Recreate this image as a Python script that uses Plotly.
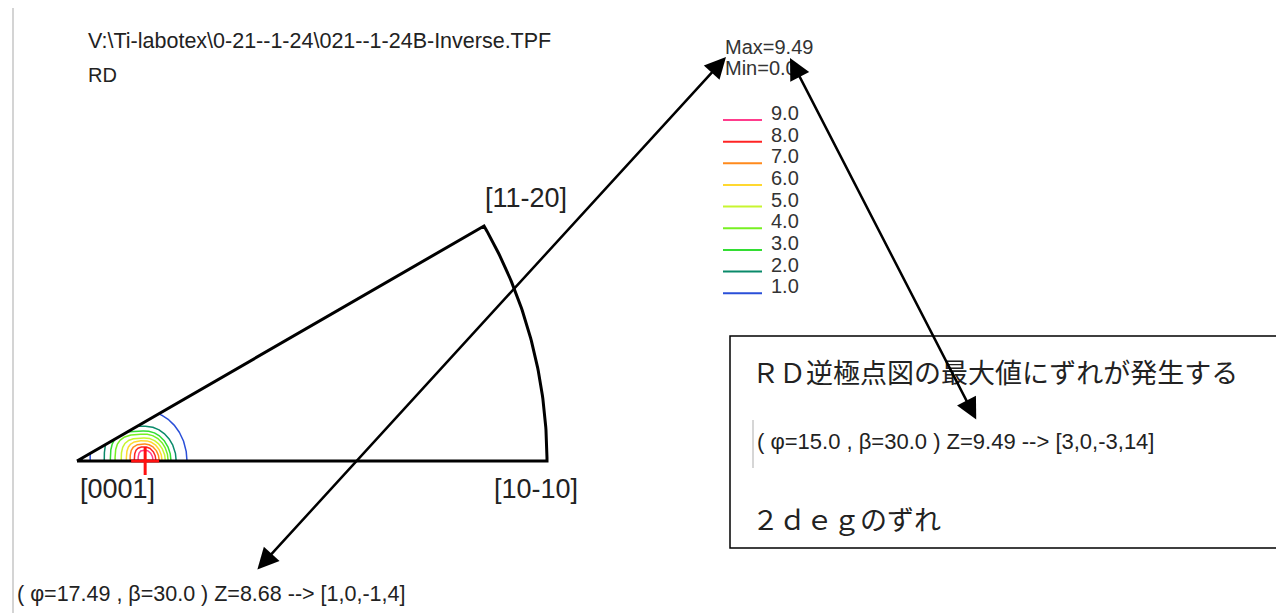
import numpy as np
import plotly.graph_objects as go

W, H = 1276, 613

# Standard triangle of the hexagonal inverse pole figure
pole_labels = ["[0001]", "[10-10]", "[11-20]"]
pole_phi = [0.0, 0.0, 30.0]      # azimuth, deg
pole_beta = [0.0, 90.0, 90.0]    # tilt from [0001], deg

# Iso-intensity levels and their colours
levels = [1.0, 2.0, 3.0, 4.0, 5.0, 6.0, 7.0, 8.0, 9.0]
level_colors = ["#2a4fd8", "#0a8a6a", "#33dd33", "#77f022", "#c8f530",
                "#ffd830", "#ff8a1c", "#ff2424", "#ff3c8c"]

# Extent of each iso-line around the maximum (projected units, rim = 1)
peak_r = 0.145
iso_right = [0.089, 0.066, 0.055, 0.049, 0.043, 0.036, 0.030, 0.023, 0.017]
iso_left = [0.117, 0.087, 0.074, 0.064, 0.051, 0.040, 0.032, 0.023, 0.015]
iso_up = [0.106, 0.074, 0.064, 0.057, 0.049, 0.043, 0.036, 0.030, 0.023]

max_value = 9.49
min_value = 0.0

file_name = "V:\\Ti-labotex\\0-21--1-24\\021--1-24B-Inverse.TPF"
direction = "RD"
readout_main = "( φ=17.49 , β=30.0 ) Z=8.68 --> [1,0,-1,4]"
note_title = "ＲＤ逆極点図の最大値にずれが発生する"
note_readout = "( φ=15.0 , β=30.0 ) Z=9.49 --> [3,0,-3,14]"
note_shift = "２ｄｅｇのずれ"

# ---- page geometry -------------------------------------------------------
UNIT = 470.0                 # px per projected unit
ORIGIN = (77.0, 461.0)       # page px of [0001]
x_range = [-ORIGIN[0] / UNIT, (W - ORIGIN[0]) / UNIT]
y_range = [-(H - ORIGIN[1]) / UNIT, ORIGIN[1] / UNIT]


def fx(px):
    return px / W


def fy(py):
    return 1.0 - py / H


def stereo(phi_deg, beta_deg):
    r = np.tan(np.radians(beta_deg) / 2.0)
    p = np.radians(phi_deg)
    return r * np.cos(p), r * np.sin(p)


fig = go.Figure()

# ---- iso-intensity lines clipped to the triangle ------------------------
edge_slope = np.tan(np.radians(pole_phi[2]))
theta = np.linspace(0.0, np.pi, 481)
c, s = np.cos(theta), np.sin(theta)
# the side towards [0001] is squarer than the outer side
expo = np.where(c >= 0, 1.0, 2.0 / 3.2)
cx = np.sign(c) * np.abs(c) ** expo
sy = np.abs(s) ** expo
for lev, col, a_r, a_l, b in zip(levels, level_colors, iso_right, iso_left, iso_up):
    a = np.where(c >= 0, a_r, a_l)
    xs = peak_r + a * cx
    ys = b * sy
    inside = ys <= xs * edge_slope + 1e-9
    xs = np.where(inside, xs, np.nan)
    ys = np.where(inside, ys, np.nan)
    fig.add_trace(go.Scatter(x=xs, y=ys, mode="lines",
                             line=dict(color=col, width=1.5),
                             connectgaps=False, hoverinfo="skip",
                             showlegend=False))

# ---- triangle outline ---------------------------------------------------
px0, py0 = stereo(pole_phi[0], pole_beta[0])
rim_phi = np.linspace(pole_phi[1], pole_phi[2], 80)
rim_x, rim_y = stereo(rim_phi, np.full_like(rim_phi, 90.0))
out_x = np.concatenate([[px0], rim_x, [px0]])
out_y = np.concatenate([[py0], rim_y, [py0]])
fig.add_trace(go.Scatter(x=out_x, y=out_y, mode="lines",
                         line=dict(color="black", width=3),
                         hoverinfo="skip", showlegend=False))

# maximum marker
fig.add_trace(go.Scatter(x=[peak_r], y=[0.0], mode="markers",
                         marker=dict(symbol="cross-thin", size=20,
                                     line=dict(color="#ff1010", width=3)),
                         hoverinfo="skip", showlegend=False))

annotations = []
shapes = []

# pole labels
label_shift = [(40, -28), (-11, -28), (42, 28)]
for lab, ph, be, (dx, dy) in zip(pole_labels, pole_phi, pole_beta, label_shift):
    x, y = stereo(ph, be)
    annotations.append(dict(x=float(x), y=float(y), xref="x", yref="y",
                            text=lab, showarrow=False, xshift=dx, yshift=dy,
                            font=dict(family="Liberation Sans", size=27,
                                      color="#222222")))

# header text
annotations.append(dict(x=fx(86), y=fy(41), xref="paper", yref="paper",
                        text=file_name, showarrow=False, xanchor="left",
                        yanchor="middle",
                        font=dict(family="Liberation Sans", size=21.5,
                                  color="#222222")))
annotations.append(dict(x=fx(86), y=fy(75), xref="paper", yref="paper",
                        text=direction, showarrow=False, xanchor="left",
                        yanchor="middle",
                        font=dict(family="Liberation Sans", size=20,
                                  color="#222222")))

# max / min and level key
annotations.append(dict(x=fx(723), y=fy(47), xref="paper", yref="paper",
                        text=f"Max={max_value}", showarrow=False,
                        xanchor="left", yanchor="middle",
                        font=dict(family="Liberation Sans", size=20,
                                  color="#333333")))
annotations.append(dict(x=fx(723), y=fy(68), xref="paper", yref="paper",
                        text=f"Min={min_value}", showarrow=False,
                        xanchor="left", yanchor="middle",
                        font=dict(family="Liberation Sans", size=20,
                                  color="#333333")))
key_top, key_step = 120.0, 21.65
for i, (lev, col) in enumerate(zip(levels[::-1], level_colors[::-1])):
    yl = key_top + i * key_step
    shapes.append(dict(type="line", xref="paper", yref="paper",
                       x0=fx(723), x1=fx(762), y0=fy(yl), y1=fy(yl),
                       line=dict(color=col, width=2)))
    annotations.append(dict(x=fx(769), y=fy(yl - 7), xref="paper",
                            yref="paper", text=f"{lev:.1f}", showarrow=False,
                            xanchor="left", yanchor="middle",
                            font=dict(family="Liberation Sans", size=20,
                                      color="#333333")))

# readout under the triangle
annotations.append(dict(x=fx(15), y=fy(594), xref="paper", yref="paper",
                        text=readout_main, showarrow=False, xanchor="left",
                        yanchor="middle",
                        font=dict(family="Liberation Sans", size=21.5,
                                  color="#222222")))

# note box
shapes.append(dict(type="rect", xref="paper", yref="paper",
                   x0=fx(730), x1=fx(1290), y0=fy(336), y1=fy(548),
                   line=dict(color="black", width=1.5),
                   fillcolor="rgba(0,0,0,0)"))
shapes.append(dict(type="line", xref="paper", yref="paper",
                   x0=fx(753), x1=fx(753), y0=fy(420), y1=fy(468),
                   line=dict(color="#c8c8c8", width=1.5)))
annotations.append(dict(x=fx(750), y=fy(371), xref="paper", yref="paper",
                        text=note_title, showarrow=False, xanchor="left",
                        yanchor="middle",
                        font=dict(family="Noto Sans CJK JP", size=27,
                                  color="#222222")))
annotations.append(dict(x=fx(755), y=fy(441), xref="paper", yref="paper",
                        text=note_readout, showarrow=False, xanchor="left",
                        yanchor="middle",
                        font=dict(family="Liberation Sans", size=22,
                                  color="#222222")))
annotations.append(dict(x=fx(750), y=fy(518), xref="paper", yref="paper",
                        text=note_shift, showarrow=False, xanchor="left",
                        yanchor="middle",
                        font=dict(family="Noto Sans CJK JP", size=27,
                                  color="#222222")))

# left frame edge
shapes.append(dict(type="line", xref="paper", yref="paper",
                   x0=fx(13), x1=fx(13), y0=fy(8), y1=0,
                   line=dict(color="#d4d4d4", width=2)))

# double-headed pointer arrows
for (xa, ya), (xb, yb) in [((726, 57), (256, 571)), ((790, 58), (977, 421))]:
    annotations.append(dict(x=fx(xa), y=fy(ya), xref="paper", yref="paper",
                            ax=xb - xa, ay=yb - ya, axref="pixel",
                            ayref="pixel", text="", showarrow=True,
                            arrowhead=2, startarrowhead=2,
                            arrowside="end+start", arrowsize=1.7,
                            startarrowsize=1.7, arrowwidth=2.5,
                            arrowcolor="black", standoff=0, startstandoff=0))

fig.update_layout(
    width=W, height=H,
    margin=dict(l=0, r=0, t=0, b=0),
    paper_bgcolor="white", plot_bgcolor="white",
    showlegend=False,
    xaxis=dict(range=x_range, visible=False, showgrid=False, zeroline=False,
               domain=[0, 1], fixedrange=True),
    yaxis=dict(range=y_range, visible=False, showgrid=False, zeroline=False,
               domain=[0, 1], fixedrange=True),
    annotations=annotations,
    shapes=shapes,
)

fig.write_html("out.html", config=dict(displayModeBar=False))
